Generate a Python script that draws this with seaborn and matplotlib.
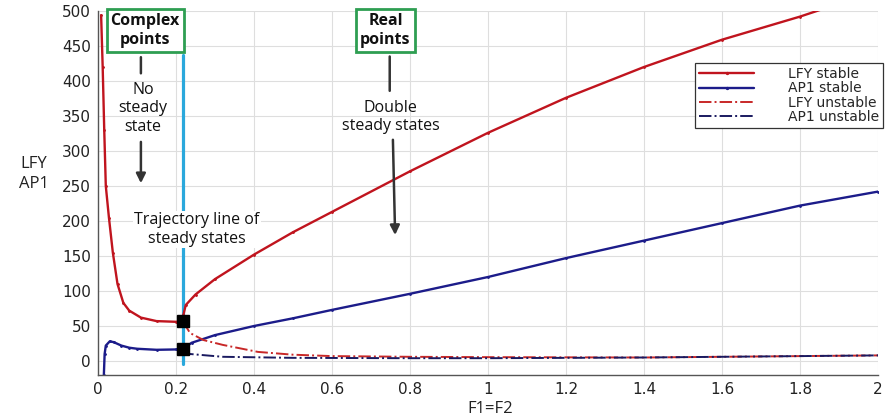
import numpy as np
import pandas as pd
import matplotlib
matplotlib.use("Agg")
import matplotlib.pyplot as plt
import seaborn as sns

# values
lfy_stable_x = [0.008, 0.012, 0.016, 0.02, 0.028, 0.038, 0.05, 0.065, 0.08, 0.11, 0.15, 0.2, 0.217,
                0.219, 0.225, 0.25, 0.3, 0.4, 0.5, 0.6, 0.8, 1.0, 1.2, 1.4, 1.6, 1.8, 1.87]
lfy_stable_y = [494, 420, 330, 250, 205, 155, 110, 83, 72, 62, 57, 56, 57,
                66, 80, 95, 117, 152, 184, 213, 271, 326, 376, 420, 459, 492, 505]

ap1_stable_x = [0.015, 0.017, 0.02, 0.03, 0.04, 0.06, 0.08, 0.1, 0.15, 0.2, 0.217,
                0.24, 0.3, 0.4, 0.5, 0.6, 0.8, 1.0, 1.2, 1.4, 1.6, 1.8, 2.0]
ap1_stable_y = [-20, 10, 22, 28, 27, 22, 19, 17.5, 16, 16.5, 17,
                26, 37, 50, 61, 73, 96, 120, 147, 172, 197, 222, 242]

lfy_unstable_x = [0.217, 0.236, 0.27, 0.32, 0.41, 0.5, 0.6, 0.8, 1.0, 1.4, 1.6, 1.8, 2.0]
lfy_unstable_y = [57, 40, 30, 23, 13, 9, 7, 6, 5.5, 5, 6, 7, 8]

ap1_unstable_x = [0.217, 0.236, 0.32, 0.5, 0.8, 1.0, 1.4, 1.6, 1.8, 2.0]
ap1_unstable_y = [17, 10, 6, 4.5, 4, 4, 5, 6, 7, 8]

bif_x = 0.217
bif_y = [57, 17]

x_ticks = [0, 0.2, 0.4, 0.6, 0.8, 1.0, 1.2, 1.4, 1.6, 1.8, 2.0]
x_ticklabels = ['0', '0.2', '0.4', '0.6', '0.8', '1', '1.2', '1.4', '1.6', '1.8', '2']
y_ticks = list(range(0, 501, 50))

sns.set_style("whitegrid")
plt.rcParams['font.family'] = ['DejaVu Sans']

fig = plt.figure(figsize=(8.9, 4.2), dpi=100)
ax = fig.add_axes([98 / 890, 45 / 420, 780 / 890, 364 / 420])

red = '#c0141e'
navy = '#1c1c8a'

sns.lineplot(x=lfy_stable_x, y=lfy_stable_y, ax=ax, color=red, lw=1.7, marker='.', ms=2.5,
             mec=red, sort=False, estimator=None, label='LFY stable')
sns.lineplot(x=ap1_stable_x, y=ap1_stable_y, ax=ax, color=navy, lw=1.7, marker='.', ms=2.5,
             mec=navy, sort=False, estimator=None, label='AP1 stable')
sns.lineplot(x=lfy_unstable_x, y=lfy_unstable_y, ax=ax, color='#c82828', lw=1.4,
             linestyle='-.', sort=False, estimator=None, label='LFY unstable')
sns.lineplot(x=ap1_unstable_x, y=ap1_unstable_y, ax=ax, color='#1a1a60', lw=1.4,
             linestyle='-.', sort=False, estimator=None, label='AP1 unstable')

# trajectory line and bifurcation points
ax.plot([bif_x, bif_x], [437, -4], color='#2aa8dc', lw=2.3, zorder=1)
ax.plot([bif_x, bif_x], bif_y, linestyle='none', marker='s', ms=9, color='black', zorder=5)

ax.set_xlim(0, 2)
ax.set_ylim(-20, 500)
ax.set_xticks(x_ticks)
ax.set_xticklabels(x_ticklabels)
ax.set_yticks(y_ticks)
ax.tick_params(direction='in', length=4, width=0.8, color='#444444', labelsize=11,
               labelcolor='#222222', pad=5)
ax.grid(True, color='#dedede', lw=0.8)
for s in ['top', 'right']:
    ax.spines[s].set_visible(False)
for s in ['left', 'bottom']:
    ax.spines[s].set_color('#555555')
    ax.spines[s].set_linewidth(1.0)

ax.set_xlabel('')
ax.set_ylabel('')
fig.text(490 / 890, 1 - 409 / 420, 'F1=F2', ha='center', va='center', fontsize=12,
         family='Open Sans', color='#222222')
fig.text(34 / 890, 1 - 174 / 420, 'LFY\nAP1', ha='center', va='center', fontsize=12,
         family='Open Sans', color='#222222', linespacing=1.3)

leg = ax.legend(loc='upper right', bbox_to_anchor=(883 / 890, 1 - 63 / 420),
                bbox_transform=fig.transFigure, fontsize=10, labelspacing=0.02,
                handlelength=4.0, handletextpad=2.4, borderpad=0.3, borderaxespad=0,
                fancybox=False, framealpha=1, edgecolor='#333333', markerscale=1.3)
leg.get_frame().set_linewidth(0.9)

box = dict(boxstyle='square,pad=0.25', fc='white', ec='#2e9e52', lw=2)
arrow_kw = dict(arrowstyle='-|>', color='#333333', lw=1.8, mutation_scale=14)
line_kw = dict(arrowstyle='-', color='#333333', lw=1.8)
txt = dict(ha='center', va='center', family='Open Sans', color='#111111', fontsize=11.5,
           linespacing=1.2)

ax.text(0.121, 472, 'Complex\npoints', fontweight='bold', bbox=box, zorder=6, **txt)
ax.annotate('', xy=(0.11, 407), xytext=(0.11, 438), arrowprops=line_kw)
ax.text(0.115, 361, 'No\nsteady\nstate', **txt)
ax.annotate('', xy=(0.11, 250), xytext=(0.11, 317), arrowprops=arrow_kw)

ax.text(0.737, 472, 'Real\npoints', fontweight='bold', bbox=box, zorder=6, **txt)
ax.annotate('', xy=(0.748, 382), xytext=(0.748, 439), arrowprops=line_kw)
ax.text(0.75, 349, 'Double\nsteady states', **txt)
ax.annotate('', xy=(0.762, 176), xytext=(0.756, 320), arrowprops=arrow_kw)

ax.text(0.254, 188, 'Trajectory line of\nsteady states', zorder=4,
        bbox=dict(boxstyle='square,pad=0.1', fc='white', ec='none'), **txt)

fig.savefig('out.png', dpi=100)
